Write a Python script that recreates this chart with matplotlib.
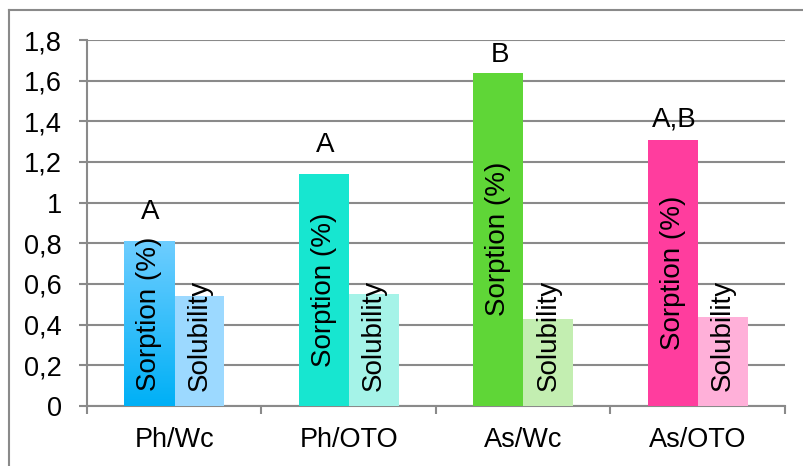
import numpy as np
import matplotlib.pyplot as plt
from matplotlib.ticker import FuncFormatter, FixedLocator
from matplotlib.lines import Line2D
from matplotlib.colors import LinearSegmentedColormap

plt.rcParams['font.family'] = ['Liberation Sans', 'DejaVu Sans']

groups = ['Ph/Wc', 'Ph/OTO', 'As/Wc', 'As/OTO']
sorption = [0.81, 1.14, 1.64, 1.31]
solubility = [0.54, 0.55, 0.43, 0.44]
letters = ['A', 'A', 'B', 'A,B']
letter_pad = [11.5, 11.5, 3.6, 5]  # points above bar top

sorp_colors = ['#2bbdfb', '#17e6d0', '#5fd637', '#ff3d9e']
solu_colors = ['#9cd9ff', '#a5f3e8', '#c3eeb1', '#ffb0d9']

fig = plt.figure(figsize=(8.04, 4.66), dpi=100)
ax = fig.add_axes([87 / 804, 1 - 406 / 466, (785 - 87) / 804, (406 - 40) / 466])

x = np.arange(len(groups))
w = 0.2874

b1 = ax.bar(x - w / 2, sorption, w, color=sorp_colors, zorder=3)
b2 = ax.bar(x + w / 2, solubility, w, color=solu_colors, zorder=3)

# vertical gradient on the first sorption bar
grad = LinearSegmentedColormap.from_list('g', ['#00b0f6', '#6dcdff'])
r = b1[0]
im = ax.imshow(np.linspace(0, 1, 100).reshape(-1, 1), cmap=grad, origin='lower',
               extent=[r.get_x(), r.get_x() + r.get_width(), 0, r.get_height()],
               aspect='auto', zorder=3.5)
im.set_clip_path(r)

fs = 20
base = 0.075  # labels that don't fit centred start just above the axis
for i in range(len(groups)):
    if sorption[i] > 1.0:
        ax.text(x[i] - w / 2, sorption[i] / 2, 'Sorption (%)', rotation=90,
                ha='center', va='center', fontsize=fs, zorder=5)
    else:
        ax.text(x[i] - w / 2, base, 'Sorption (%)', rotation=90,
                ha='center', va='bottom', fontsize=fs, zorder=5)
    ax.text(x[i] + w / 2, base, 'Solubility', rotation=90,
            ha='center', va='bottom', fontsize=fs, zorder=5)
    ax.annotate(letters[i], (x[i] - w / 2, sorption[i]), xytext=(1, letter_pad[i]),
                textcoords='offset points', ha='center', va='bottom', fontsize=fs)

ax.set_xlim(-0.5, len(groups) - 0.5)
ax.set_ylim(0, 1.8)
ax.set_yticks(np.arange(0, 1.81, 0.2))
ax.yaxis.set_major_formatter(FuncFormatter(lambda v, p: f'{v:.1f}'.rstrip('0').rstrip('.').replace('.', ',')))
ax.set_xticks(x)
ax.set_xticklabels(groups)
ax.xaxis.set_minor_locator(FixedLocator(np.arange(-0.5, len(groups), 1.0)))

gc = '#8a8a8a'
ax.grid(axis='y', color=gc, linewidth=1.5, zorder=0)
ax.tick_params(axis='y', length=6, width=1.5, color=gc, pad=12, labelsize=19.5)
ax.tick_params(axis='x', which='major', length=0, pad=15, labelsize=19.5)
ax.tick_params(axis='x', which='minor', length=6, width=1.5, color=gc)
for s in ['top', 'right']:
    ax.spines[s].set_visible(False)
for s in ['left', 'bottom']:
    ax.spines[s].set_color(gc)
    ax.spines[s].set_linewidth(1.5)

# outer chart frame
fig.add_artist(Line2D([8.5 / 804, 8.5 / 804], [0, 1 - 10 / 466], color=gc, lw=1.5))
fig.add_artist(Line2D([8.5 / 804, 1], [1 - 10 / 466, 1 - 10 / 466], color=gc, lw=1.5))

fig.savefig('out.png', dpi=100)
